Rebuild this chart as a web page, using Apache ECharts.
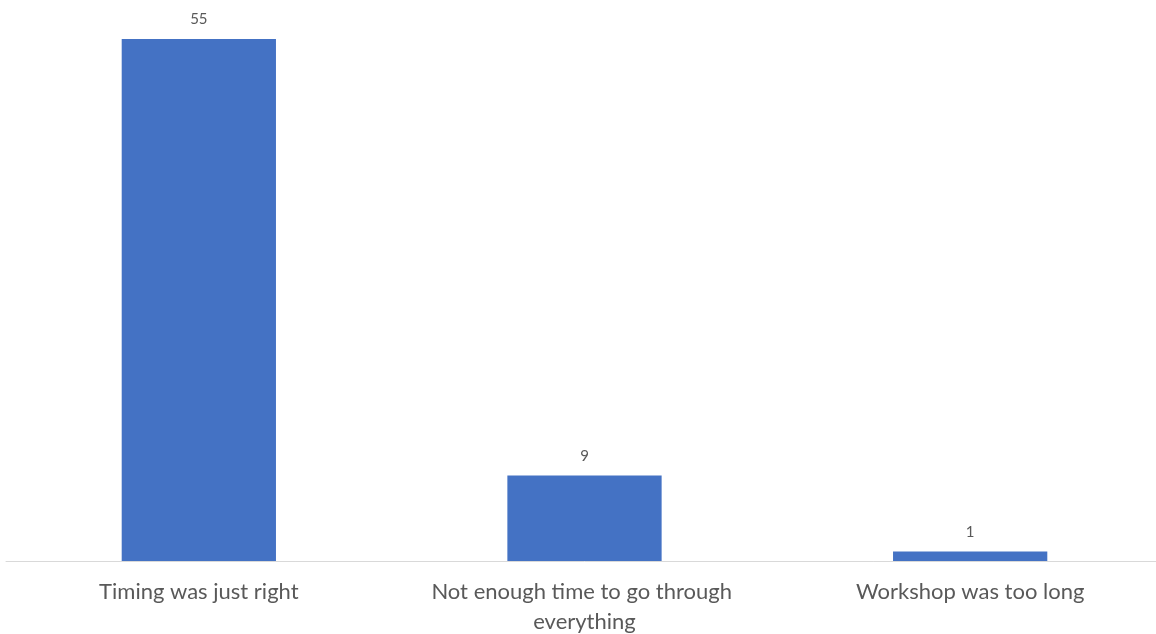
<!DOCTYPE html>
<html>
<head>
<meta charset="utf-8">
<script src="https://cdn.jsdelivr.net/npm/echarts@6/dist/echarts.min.js"></script>
<style>
  html, body { margin: 0; padding: 0; background: #ffffff; overflow: hidden; }
  #wrap { width: 1156px; height: 634px; overflow: hidden; }
  #chart { width: 1172px; height: 634px; }
</style>
</head>
<body>
<div id="wrap"><div id="chart"></div></div>
<script>
// Survey responses about workshop timing
const categories = [
  'Timing was just right',
  'Not enough time to go through everything',
  'Workshop was too long'
];
const responses = [55, 9, 1];

const chart = echarts.init(document.getElementById('chart'));
chart.setOption({
  animation: false,
  grid: {
    left: 6, top: 39, width: 1157, bottom: 73,
    containLabel: false,
    outerBoundsMode: 'none'
  },
  xAxis: {
    type: 'category',
    data: categories,
    axisLine: { show: true, lineStyle: { color: '#d9d9d9', width: 1 } },
    axisTick: { show: false },
    axisLabel: {
      interval: 0,
      margin: 16,
      color: '#595959',
      fontFamily: 'Lato, "Open Sans", sans-serif',
      fontSize: 22,
      lineHeight: 30,
      width: 330,
      overflow: 'break'
    }
  },
  yAxis: {
    type: 'value',
    min: 0,
    max: 55,
    show: false,
    splitLine: { show: false }
  },
  series: [{
    type: 'bar',
    data: responses,
    barWidth: '40%',
    itemStyle: { color: '#4472c4' },
    label: {
      show: true,
      position: 'top',
      distance: 12,
      color: '#595959',
      fontFamily: 'Lato, "Open Sans", sans-serif',
      fontSize: 15
    }
  }]
});
</script>
</body>
</html>
